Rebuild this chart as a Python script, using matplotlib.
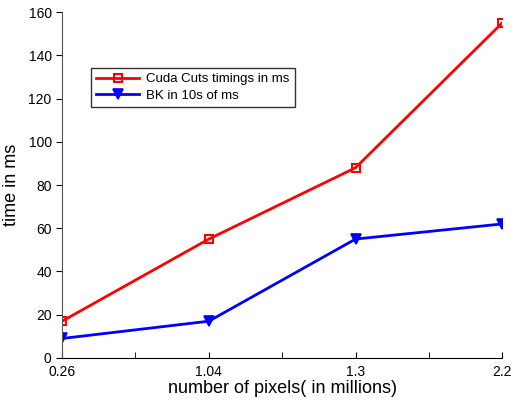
import numpy as np
import matplotlib
matplotlib.use("Agg")
import matplotlib.pyplot as plt
from matplotlib.ticker import MultipleLocator

pixels = ['0.26', '1.04', '1.3', '2.2']
cuda_ms = [17, 55, 88, 155]
bk_10ms = [9, 17, 55, 62]

plt.rcParams['font.family'] = 'Liberation Sans'

fig = plt.figure(figsize=(5.13, 4.04), dpi=100)
ax = fig.add_axes([0.121, 0.114, 0.858, 0.856])

x = np.arange(len(pixels))
ax.plot(x, cuda_ms, color='r', lw=2, marker='s', ms=6, mfc='none', mew=1.5,
        label='Cuda Cuts timings in ms')
ax.plot(x, bk_10ms, color='b', lw=2, marker='v', ms=7, mfc='b', mew=1.2,
        label='BK in 10s of ms')

ax.set_xlim(0, len(pixels) - 1)
ax.set_ylim(0, 160)
ax.set_xticks(x)
ax.set_xticklabels(pixels)
ax.xaxis.set_minor_locator(MultipleLocator(0.5))
ax.set_yticks(np.arange(0, 161, 20))

for s in ('top', 'right'):
    ax.spines[s].set_visible(False)
ax.spines['left'].set_color('#555555')
ax.tick_params(axis='x', direction='in', labelsize=10, pad=5, length=4)
ax.tick_params(axis='x', which='minor', direction='in', length=4)
ax.tick_params(axis='y', direction='out', labelsize=10, length=4)

ax.set_xlabel('number of pixels( in millions)', fontsize=13, labelpad=1)
ax.set_ylabel('time in ms', fontsize=13, labelpad=6)

leg = ax.legend(loc='upper left', bbox_to_anchor=(0.05, 0.858), fontsize=9.5,
                frameon=True, fancybox=False, edgecolor='k', borderpad=0.4,
                handlelength=3.3, labelspacing=0.3, handletextpad=0.5)
leg.get_frame().set_linewidth(1.0)

fig.savefig('out.png', dpi=100)
